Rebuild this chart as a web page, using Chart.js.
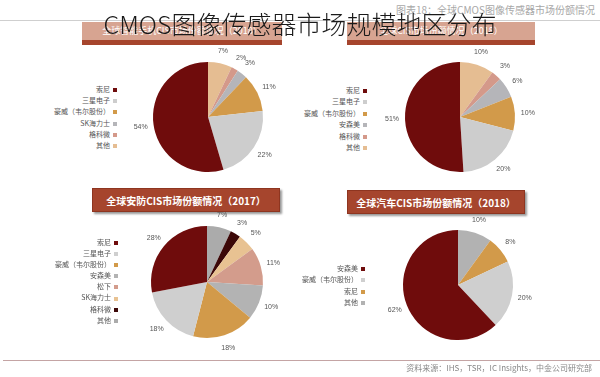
<!DOCTYPE html>
<html><head><meta charset="utf-8">
<script src="https://cdn.jsdelivr.net/npm/chart.js@4.4.0/dist/chart.umd.min.js"></script>
<style>
html,body{margin:0;padding:0;background:#fff;}
#wrap{position:relative;width:600px;height:377px;overflow:hidden;background:#fff;font-family:"Noto Sans CJK SC","Noto Sans",sans-serif;}
.abs{position:absolute;}
.hdr{position:absolute;box-sizing:border-box;color:#fff;text-align:center;white-space:nowrap;}
.hdrTop{background:#d7a491;border-bottom:5px solid #a6452d;font-size:9px;line-height:18px;height:23px;}
.hdrBot{background:#a6452d;font-size:10px;font-weight:bold;line-height:23px;height:24px;box-shadow:2px 2px 2px #999;border:1px solid #8e3520;}
.leg{position:absolute;font-size:7px;color:#555;white-space:nowrap;text-align:right;line-height:8px;}
.leg span.m{display:inline-block;width:4px;height:4px;margin-left:3px;vertical-align:middle;}
canvas{position:absolute;}
</style></head>
<body>
<div id="wrap">
  <div class="abs" style="left:0;top:20px;width:600px;height:1px;background:#cfcfcf;"></div>
  <div class="abs" style="left:369px;top:4px;width:226px;font-size:10px;color:#a8a8a8;white-space:nowrap;text-align:right;line-height:12px;">图表18：全球CMOS图像传感器市场份额情况</div>

  <div class="hdr hdrTop" style="left:82px;top:22px;width:200px;">全球智能手机CIS市场份额情况（2018）</div>
  <div class="hdr hdrTop" style="left:347px;top:22px;width:188px;">全球CIS市场份额情况（2018）</div>
  <div class="hdr hdrBot" style="left:92px;top:188px;width:188px;">全球安防CIS市场份额情况（2017）</div>
  <div class="hdr hdrBot" style="left:347px;top:190px;width:178px;">全球汽车CIS市场份额情况（2018）</div>

  <canvas id="c1" width="180" height="180" style="left:118px;top:27px;"></canvas>
  <canvas id="c2" width="180" height="180" style="left:370px;top:27px;"></canvas>
  <canvas id="c3" width="180" height="180" style="left:117px;top:192px;"></canvas>
  <canvas id="c4" width="180" height="180" style="left:368px;top:195px;"></canvas>

  <div id="l1" class="leg" style="right:483px;top:85px;"></div>
  <div id="l2" class="leg" style="right:233px;top:86px;"></div>
  <div id="l3" class="leg" style="right:482px;top:238px;"></div>
  <div id="l4" class="leg" style="right:235px;top:264px;"></div>

  <div class="abs" style="left:3px;top:360px;width:597px;height:1px;background:#c4a4a4;"></div>
  <div class="abs" style="left:300px;top:363px;width:292px;font-size:8px;color:#888;white-space:nowrap;text-align:right;line-height:10px;">资料来源：IHS，TSR，IC Insights，中金公司研究部</div>

  <div class="abs" style="left:0;top:9px;width:600px;text-align:center;font-size:25px;line-height:28px;color:#1a1a1a;font-weight:300;white-space:nowrap;">CMOS图像传感器市场规模地区分布</div>
</div>
<script>
// ---- data ----
const phoneLabels = ['索尼','三星电子','豪威（韦尔股份）','SK海力士','格科微','其他'];
const phoneShares = [54,22,11,3,2,7];

const cisLabels = ['索尼','三星电子','豪威（韦尔股份）','安森美','格科微','其他'];
const cisShares = [51,20,10,6,3,10];

const securityLabels = ['索尼','三星电子','豪威（韦尔股份）','安森美','松下','SK海力士','格科微','其他'];
const securityShares = [28,18,18,10,11,5,3,7];

const autoLabels = ['安森美','豪威（韦尔股份）','索尼','其他'];
const autoShares = [62,20,8,10];

// ---- styles ----
const phoneColors = ['#6f0c0c','#cdcdcd','#d29a4a','#b5b5b9','#d4998a','#e5bd92'];
const cisColors = ['#6f0c0c','#cdcdcd','#d29a4a','#b5b5b9','#d4998a','#e5bd92'];
const securityColors = ['#6f0c0c','#cfcfcf','#d29a4a','#b3b3b3','#d39c8c','#e8c292','#3c0808','#ababab'];
const autoColors = ['#6f0c0c','#cfcfcf','#d29a4a','#b2b2b2'];

const pctLabels = {
  id:'pctLabels',
  afterDatasetsDraw(chart){
    const ctx = chart.ctx;
    const meta = chart.getDatasetMeta(0);
    const ds = chart.data.datasets[0];
    ctx.save();
    ctx.font = '7px "Liberation Sans", "DejaVu Sans", sans-serif';
    ctx.fillStyle = '#555';
    ctx.textAlign = 'center';
    ctx.textBaseline = 'middle';
    meta.data.forEach((arc,i)=>{
      const p = arc.getProps(['x','y','startAngle','endAngle','outerRadius'], true);
      const a = (p.startAngle + p.endAngle)/2;
      const rr = p.outerRadius + 13;
      ctx.fillText(ds.data[i] + '%', p.x + Math.cos(a)*rr, p.y + Math.sin(a)*rr);
    });
    ctx.restore();
  }
};

function makePie(id, labels, values, colors, pad){
  // the reference picture runs its slices anticlockwise, so feed them reversed
  new Chart(document.getElementById(id), {
    type:'pie',
    data:{
      labels: labels.slice().reverse(),
      datasets:[{ data: values.slice().reverse(), backgroundColor: colors.slice().reverse(), borderWidth:0 }]
    },
    options:{
      responsive:false, animation:false,
      layout:{ padding: pad },
      plugins:{ legend:{display:false}, tooltip:{enabled:false} }
    },
    plugins:[pctLabels]
  });
}

function makeLegend(id, labels, colors, spacing){
  const el = document.getElementById(id);
  labels.forEach((t,i)=>{
    const row = document.createElement('div');
    row.style.height = spacing + 'px';
    row.innerHTML = t + '<span class="m" style="background:' + colors[i] + '"></span>';
    el.appendChild(row);
  });
}

makePie('c1', phoneLabels, phoneShares, phoneColors, 35);
makePie('c2', cisLabels, cisShares, cisColors, 35);
makePie('c3', securityLabels, securityShares, securityColors, 34);
makePie('c4', autoLabels, autoShares, autoColors, 35);

makeLegend('l1', phoneLabels, phoneColors, 11.2);
makeLegend('l2', cisLabels, cisColors, 11.4);
makeLegend('l3', securityLabels, securityColors, 11.1);
makeLegend('l4', autoLabels, autoColors, 11.3);
</script>
</body></html>
